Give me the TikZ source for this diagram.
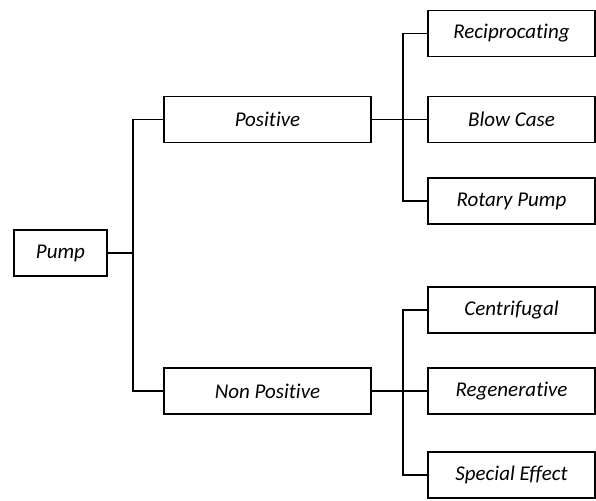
\documentclass[tikz,border=0pt]{standalone}
\usepackage{fontspec}
\setmainfont{Carlito}[Ligatures=NoCommon]
\begin{document}
\begin{tikzpicture}[x=1pt,y=-1pt,box/.style={draw,line width=1.2pt,minimum height=46pt,inner sep=0pt,font=\fontsize{21}{25}\selectfont\itshape},link/.style={line width=1.8pt}]
  \useasboundingbox (0,0) rectangle (596,500);
  % root and first level
  \node[box,minimum width=93pt] (pump) at (60.5,253) {Pump};
  \node[box,minimum width=207pt] (pos) at (267.5,119.5) {Positive};
  \node[box,minimum width=207pt] (nonpos) at (267.5,391) {Non Positive};
  % second level
  \node[box,minimum width=167pt] (recip) at (511.5,33.5) {Reciprocating};
  \node[box,minimum width=167pt] (blow) at (511.5,119.5) {Blow Case};
  \node[box,minimum width=167pt] (rotary) at (511.5,201) {Rotary Pump};
  \node[box,minimum width=167pt] (centri) at (511.5,310) {Centrifugal};
  \node[box,minimum width=167pt] (regen) at (511.5,391) {Regenerative};
  \node[box,minimum width=167pt] (special) at (511.5,475) {Special Effect};
  \coordinate (rootbus) at (133,253);
  \coordinate (posbus) at (403,119.5);
  \coordinate (nonbus) at (403,391);
  \draw[link] (pump.east) -- (rootbus);
  \draw[link] (pos.west) -| (rootbus) |- (nonpos.west);
  \draw[link] (pos.east) -- (blow.west);
  \draw[link] (recip.west) -| (posbus) |- (rotary.west);
  \draw[link] (nonpos.east) -- (regen.west);
  \draw[link] (centri.west) -| (nonbus) |- (special.west);
\end{tikzpicture}
\end{document}
